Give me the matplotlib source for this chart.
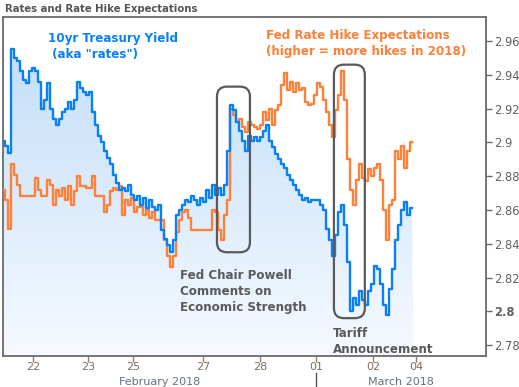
import numpy as np
import matplotlib
matplotlib.use("Agg")
import matplotlib.pyplot as plt
from matplotlib.colors import LinearSegmentedColormap
from matplotlib.patches import Polygon, FancyBboxPatch
import matplotlib.transforms as mtransforms

# ==========================================
# DATA (equal time steps)
# ==========================================
yield_10yr = [
    2.901, 2.898, 2.894, 2.955, 2.950, 2.948, 2.942, 2.937, 2.935, 2.942,
    2.944, 2.942, 2.936, 2.920, 2.925, 2.935, 2.920, 2.914, 2.910, 2.914,
    2.918, 2.920, 2.924, 2.920, 2.925, 2.936, 2.932, 2.930, 2.928, 2.930,
    2.918, 2.910, 2.904, 2.900, 2.895, 2.891, 2.887, 2.881, 2.876, 2.872,
    2.873, 2.871, 2.875, 2.869, 2.866, 2.868, 2.863, 2.867, 2.861, 2.866,
    2.862, 2.860, 2.863, 2.848, 2.843, 2.839, 2.835, 2.842, 2.857, 2.860,
    2.863, 2.866, 2.865, 2.868, 2.866, 2.863, 2.867, 2.865, 2.872, 2.867,
    2.875, 2.869, 2.873, 2.869, 2.875, 2.895, 2.922, 2.919, 2.912, 2.907,
    2.901, 2.895, 2.904, 2.901, 2.903, 2.901, 2.903, 2.907, 2.910, 2.901,
    2.897, 2.893, 2.890, 2.887, 2.885, 2.881, 2.878, 2.875, 2.872, 2.869,
    2.866, 2.867, 2.865, 2.866, 2.866, 2.866, 2.863, 2.860, 2.849, 2.842,
    2.833, 2.845, 2.859, 2.863, 2.851, 2.829, 2.800, 2.808, 2.804, 2.812,
    2.807, 2.804, 2.812, 2.816, 2.827, 2.825, 2.816, 2.804, 2.798, 2.813,
    2.825, 2.842, 2.851, 2.860, 2.865, 2.857, 2.861,
]

hike_expect = [
    2.872, 2.866, 2.849, 2.887, 2.881, 2.875, 2.868, 2.868, 2.868, 2.868,
    2.868, 2.879, 2.872, 2.868, 2.868, 2.878, 2.875, 2.863, 2.872, 2.868,
    2.873, 2.866, 2.874, 2.863, 2.871, 2.880, 2.874, 2.874, 2.873, 2.873,
    2.880, 2.868, 2.868, 2.868, 2.859, 2.863, 2.871, 2.873, 2.872, 2.874,
    2.857, 2.866, 2.863, 2.867, 2.859, 2.862, 2.862, 2.857, 2.860, 2.855,
    2.859, 2.854, 2.854, 2.854, 2.842, 2.833, 2.826, 2.833, 2.847, 2.854,
    2.859, 2.860, 2.855, 2.848, 2.848, 2.848, 2.848, 2.848, 2.848, 2.848,
    2.860, 2.859, 2.848, 2.842, 2.857, 2.866, 2.920, 2.916, 2.912, 2.914,
    2.909, 2.906, 2.912, 2.910, 2.909, 2.908, 2.910, 2.918, 2.913, 2.920,
    2.910, 2.919, 2.922, 2.934, 2.941, 2.931, 2.936, 2.930, 2.935, 2.931,
    2.932, 2.924, 2.922, 2.923, 2.928, 2.935, 2.933, 2.925, 2.918, 2.910,
    2.903, 2.919, 2.928, 2.942, 2.925, 2.890, 2.872, 2.863, 2.878, 2.887,
    2.879, 2.877, 2.884, 2.880, 2.885, 2.887, 2.878, 2.860, 2.842, 2.863,
    2.866, 2.895, 2.890, 2.898, 2.885, 2.895, 2.900,
]

day_labels = ["22", "23", "25", "27", "28", "01", "02", "04"]
day_pos = [9.7, 28.0, 43.0, 66.3, 85.3, 104.0, 123.0, 137.3]
month_labels = ["February 2018", "March 2018"]
month_pos = [51.8, 132.3]
month_split = 104.0
y_ticks = [2.78, 2.80, 2.82, 2.84, 2.86, 2.88, 2.90, 2.92, 2.94, 2.96]

x = np.arange(len(yield_10yr))
yb = np.array(yield_10yr)
yo = np.array(hike_expect)

blue = "#0a80f5"
orange = "#ff8038"
grey = "#5a5a5a"

# ==========================================
# PLOT
# ==========================================
fig = plt.figure(figsize=(5.19, 3.87), dpi=100)
ax = fig.add_axes([3 / 519, 1 - 356 / 387, 483 / 519, 339 / 387])

y_min, y_max = 2.7736, 2.9742
ax.set_xlim(-0.33, 160.7)
ax.set_ylim(y_min, y_max)

# gradient fill under the yield line
verts = np.vstack([[x[0] - 0.5, y_min],
                   np.column_stack([x, yb]),
                   [x[-1] + 0.5, y_min]])
clip = Polygon(verts, closed=True, facecolor="none", edgecolor="none",
               transform=ax.transData)
ax.add_patch(clip)
cmap = LinearSegmentedColormap.from_list("fade", ["#f6faff", "#dcecfc", "#c4dff8"])
grad = np.linspace(0, 1, 256).reshape(-1, 1)
im = ax.imshow(grad, extent=[x[0] - 0.5, x[-1] + 0.5, y_min, 2.956],
               origin="lower", aspect="auto", cmap=cmap, zorder=1)
im.set_clip_path(clip)

ax.plot(x, yo, color=orange, lw=1.7, drawstyle="steps-mid", zorder=3)
ax.plot(x, yb, color=blue, lw=1.7, drawstyle="steps-mid", zorder=4)

# highlight boxes
for (x0, x1, y0, y1) in [(71.0, 82.0, 2.835, 2.933), (110.0, 120.3, 2.796, 2.946)]:
    box = FancyBboxPatch((x0, y0), x1 - x0, y1 - y0,
                         boxstyle="round,pad=0,rounding_size=3.3",
                         mutation_aspect=0.00178, facecolor="none",
                         edgecolor=grey, lw=1.6, zorder=5)
    ax.add_patch(box)

# annotations
ax.text(14.8, 2.9567, "10yr Treasury Yield\n (aka \"rates\")", color=blue,
        fontsize=8.6, fontweight="bold", va="center", linespacing=1.38)
ax.text(87.3, 2.9585, "Fed Rate Hike Expectations\n(higher = more hikes in 2018)",
        color=orange, fontsize=8.6, fontweight="bold", va="center", linespacing=1.38)
ax.text(58.7, 2.8120, "Fed Chair Powell\nComments on\nEconomic Strength", color=grey,
        fontsize=8.6, fontweight="bold", va="center", linespacing=1.3)
ax.text(109.7, 2.7822, "Tariff\nAnnouncement", color=grey,
        fontsize=8.6, fontweight="bold", va="center", linespacing=1.3)

# axes styling
for side in ["left", "top", "bottom", "right"]:
    ax.spines[side].set_color("#6a6a6a")
    ax.spines[side].set_linewidth(1.3)

ax.yaxis.tick_right()
ax.set_yticks(y_ticks)
ax.set_yticklabels([f"{v:g}" for v in y_ticks])
ax.tick_params(axis="y", colors="#6a6a6a", labelcolor="#606060", labelsize=8.3,
               length=4, width=1, pad=2)
for lab in ax.get_yticklabels():
    if lab.get_text() == "2.8":
        lab.set_fontweight("bold")

ax.set_xticks(day_pos)
ax.set_xticklabels(day_labels)
ax.tick_params(axis="x", colors="#8a8070", labelcolor="#7d705e", labelsize=8.0,
               length=4, width=1, pad=0.5)

trans = mtransforms.blended_transform_factory(ax.transData, ax.transAxes)
for lab, pos in zip(month_labels, month_pos):
    ax.text(pos, -0.078, lab, transform=trans, ha="center", va="center",
            color="#66707f", fontsize=8.0)
ax.plot([month_split, month_split], [-0.05, -0.095], transform=trans,
        color="#555555", lw=1, clip_on=False)

fig.text(5 / 519, 1 - 9 / 387, "Rates and Rate Hike Expectations", color="#555555",
         fontsize=7.3, fontweight="bold", va="center")

fig.savefig("out.png", dpi=100)
